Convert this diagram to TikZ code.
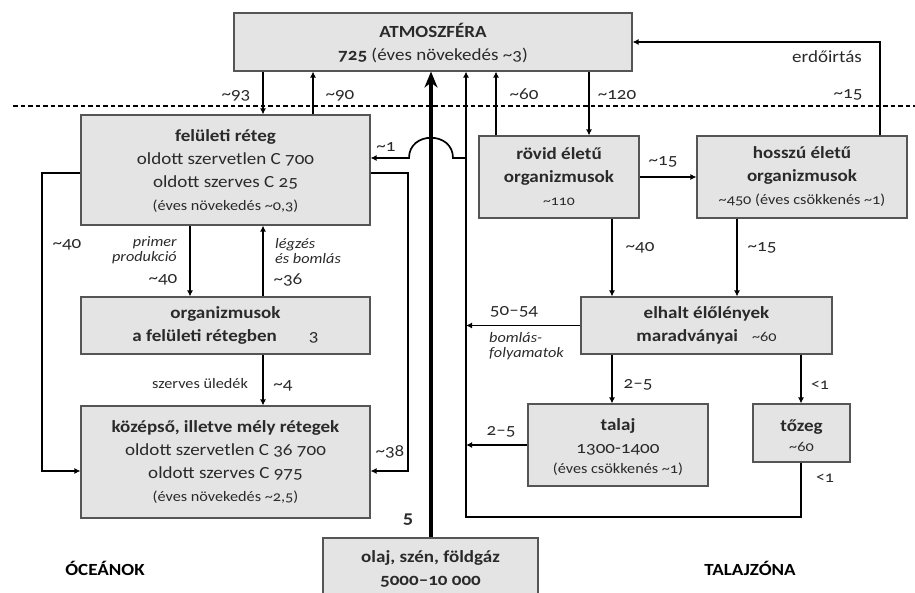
\documentclass[tikz,border=0pt]{standalone}
\usepackage{fontspec}
\setmainfont{Carlito}[Numbers=OldStyle,FakeStretch=1.12]
\usetikzlibrary{arrows.meta}
\definecolor{boxgray}{HTML}{E4E4E4}
\definecolor{edgegray}{HTML}{555555}
\definecolor{txt}{HTML}{2A2A2A}
\newcommand\apx{\textasciitilde}
\newcommand\smallsz{\fontsize{14.5}{23}\selectfont}
\begin{document}
\begin{tikzpicture}[x=1pt,y=-1pt,
  box/.style={draw=edgegray,fill=boxgray,line width=1.1pt,inner sep=0pt,align=center,
    font=\fontsize{17}{23}\selectfont,text=txt},
  flow/.style={line width=1.7pt,-{Latex[length=6pt,width=6pt]}},
  lab/.style={font=\fontsize{17}{18}\selectfont,text=txt,inner sep=0pt},
  slab/.style={font=\fontsize{14.5}{16}\selectfont,text=txt,inner sep=0pt},
  ilab/.style={font=\fontsize{14.5}{15.5}\selectfont\itshape,text=txt,inner sep=0pt},
  zone/.style={font=\fontsize{17}{18}\selectfont\bfseries,text=black,inner sep=0pt}]
\useasboundingbox (0,0) rectangle (915,593);
% dashed boundary
\coordinate (dl) at (13,106);
\coordinate (dr) at (915,106);
\draw[line width=1.4pt,dash pattern=on 4.5pt off 3pt] (dl) -- (dr);
% boxes
\node[box,minimum width=398pt,minimum height=58pt] (atm) at (433,42)
  {\rule{0pt}{16pt}\textbf{ATMOSZFÉRA}\\\textbf{725} (éves növekedés \apx3)};
\node[box,minimum width=289pt,minimum height=110pt] (fel) at (225.5,170)
  {\rule{0pt}{14pt}\textbf{felületi réteg}\\oldott szervetlen C 700\\oldott szerves C 25\\{\smallsz(éves növekedés \apx0,3)}};
\node[box,minimum width=289pt,minimum height=57pt] (org) at (225.5,325.5)
  {\textbf{organizmusok}\\\textbf{a felületi rétegben}\hspace{32pt}3};
\node[box,minimum width=289pt,minimum height=112pt] (koz) at (225.5,462)
  {\textbf{középső, illetve mély rétegek}\\oldott szervetlen C 36 700\\oldott szerves C 975\\{\smallsz(éves növekedés \apx2,5)}};
\node[box,minimum width=215pt,minimum height=62pt] (olaj) at (430.5,569)
  {\textbf{olaj, szén, földgáz}\\\textbf{5000--10 000}};
\node[box,minimum width=160pt,minimum height=82pt] (rov) at (559,177)
  {\textbf{rövid életű}\\\textbf{organizmusok}\\{\fontsize{14}{21}\selectfont\apx110}};
\node[box,minimum width=210pt,minimum height=82pt] (hos) at (802,177)
  {\textbf{hosszú életű}\\\textbf{organizmusok}\\{\fontsize{14.5}{21}\selectfont\apx450 (éves csökkenés \apx1)}};
\node[box,minimum width=251pt,minimum height=57pt] (elh) at (706.5,325.5)
  {\textbf{elhalt élőlények}\\\textbf{maradványai}\hspace{14pt}{\smallsz\apx60}};
\node[box,minimum width=180pt,minimum height=82pt] (tal) at (618,445)
  {\rule{0pt}{16pt}\textbf{talaj}\\1300-1400\\[-3pt]{\fontsize{14.5}{20}\selectfont(éves csökkenés \apx1)}};
\node[box,minimum width=97pt,minimum height=58pt] (toz) at (801.5,433)
  {\rule{0pt}{17pt}\textbf{tőzeg}\\[-3pt]{\fontsize{14.5}{20}\selectfont\apx60}};
% x positions
\coordinate (x190) at (190,0);
\coordinate (x263) at (263,0);
\coordinate (x313) at (313,0);
\coordinate (x431) at (431,0);
\coordinate (x466) at (466,0);
\coordinate (x496) at (496,0);
\coordinate (x589) at (589,0);
\coordinate (x612) at (612,0);
\coordinate (x737) at (737,0);
\coordinate (x801) at (801,0);
\coordinate (x880) at (880,0);
\coordinate (bend1) at (453,158);
\coordinate (bend2) at (409,158);
\coordinate (bot) at (801,517);
\coordinate (ll1) at (42,173);
\coordinate (ll2) at (42,471);
\coordinate (rl1) at (408,173);
\coordinate (rl2) at (408,471);
% ocean flows
\draw[flow] (atm.south -| x263) -- (fel.north -| x263);
\draw[flow] (fel.north -| x313) -- (atm.south -| x313);
\draw[flow] (fel.south -| x190) -- (org.north -| x190);
\draw[flow] (org.north -| x263) -- (fel.south -| x263);
\draw[flow] (org.south -| x263) -- (koz.north -| x263);
\draw[flow] (fel.west |- ll1) -- (ll1) -- (ll2) -- (koz.west |- ll2);
\draw[flow] (fel.east |- rl1) -- (rl1) -- (rl2) -- (koz.east |- rl2);
% fossil
\draw[line width=4.5pt,-{Stealth[length=16pt,width=13pt,inset=5pt]}] (olaj.north -| x431) -- (atm.south -| x431);
% soil return
\draw[flow] (toz.south -| x801) -- (bot) -- (bot -| x466) -- (atm.south -| x466);
\draw[flow] (x466 |- bend1) -- (bend1) .. controls (453,131) and (409,131) .. (bend2) -- (fel.east |- bend2);
\draw[flow] (elh.west) -- (elh.west -| x466);
\draw[flow] (tal.west) -- (tal.west -| x466);
% land flows
\draw[flow] (rov.north -| x496) -- (atm.south -| x496);
\draw[flow] (atm.south -| x589) -- (rov.north -| x589);
\draw[flow] (rov.east) -- (hos.west);
\draw[flow] (hos.north -| x880) -- (atm.east -| x880) -- (atm.east);
\draw[flow] (rov.south -| x612) -- (elh.north -| x612);
\draw[flow] (hos.south -| x737) -- (elh.north -| x737);
\draw[flow] (elh.south -| x612) -- (tal.north -| x612);
\draw[flow] (elh.south -| x801) -- (toz.north -| x801);
% labels
\node[lab] (l93) at (236,96) {\apx93};
\node[lab] (l90) at (340,96) {\apx90};
\node[lab] (l60) at (524,94) {\apx60};
\node[lab] (l120) at (617,95) {\apx120};
\node[lab] (lerd) at (827,57) {erdőirtás};
\node[lab] (l15a) at (848,95) {\apx15};
\node[lab] (l1) at (386,147) {\apx1};
\node[lab] (l15b) at (663,162) {\apx15};
\node[lab] (l40a) at (67,245) {\apx40};
\node[ilab,align=right,anchor=east] (lprim) at (177,250) {primer\\produkció};
\node[lab] (l40b) at (163,280) {\apx40};
\node[ilab,align=left,anchor=west] (llegz) at (275,251) {légzés\\és bomlás};
\node[lab] (l36) at (288,280) {\apx36};
\node[slab] (lsz) at (200,384) {szerves üledék};
\node[lab] (l4) at (283,386) {\apx4};
\node[lab] (l38) at (390,452) {\apx38};
\node[lab,font=\fontsize{18}{18}\selectfont\bfseries] (l5) at (408,520) {5};
\node[lab] (l40c) at (640,248) {\apx40};
\node[lab] (l15c) at (762,248) {\apx15};
\node[lab] (l5054) at (514,312) {50--54};
\node[ilab,align=left,anchor=west] (lboml) at (489,346) {bomlás-\\folyamatok};
\node[lab] (l25a) at (638,385) {2--5};
\node[lab,font=\fontsize{16}{16}\selectfont] (llt1) at (820,385) {<1};
\node[lab] (l25b) at (501,432) {2--5};
\node[lab,font=\fontsize{16}{16}\selectfont] (llt2) at (825,478) {<1};
\node[zone] (ocean) at (105,568) {ÓCEÁNOK};
\node[zone] (soil) at (750,568) {TALAJZÓNA};
\end{tikzpicture}
\end{document}
